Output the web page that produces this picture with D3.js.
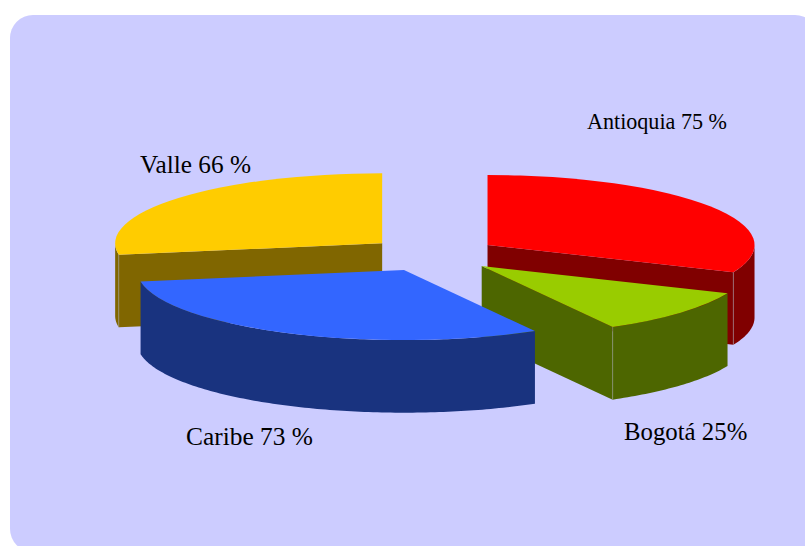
<!DOCTYPE html>
<html>
<head>
<meta charset="utf-8">
<script src="https://cdn.jsdelivr.net/npm/d3@7"></script>
<style>
  html, body { margin: 0; padding: 0; background: #fff; overflow: hidden; }
  svg { display: block; }
</style>
</head>
<body>
<svg width="805" height="546"></svg>
<script>
// regions and their percentages
var regions = ["Antioquia", "Bogotá", "Caribe", "Valle"];
var percents = [75, 25, 73, 66];
var labels = ["Antioquia 75 %", "Bogotá 25%", "Caribe 73 %", "Valle 66 %"];
var topColors = ["#ff0000", "#99cc00", "#3366ff", "#ffcc00"];
var sideColors = ["#800000", "#4d6600", "#19337f", "#806600"];

var svg = d3.select("svg"),
  cx = 432.5,
  cy = 254.5,
  rx = 267,
  tilt = 70 / 267,
  depth = 72.6,
  explode = 66;

// label anchors (left edge, baseline)
var labelX = [587, 624, 186, 140],
  labelY = [129, 440, 445, 173],
  labelSize = [22.1, 24.8, 25.4, 25.3];

svg.append("rect")
  .attr("x", 10)
  .attr("y", 15)
  .attr("width", 808)
  .attr("height", 537)
  .attr("rx", 23)
  .attr("fill", "#ccccff");

var pie = d3.pie().sort(null).value(function(d) { return d; });

var slices = pie(percents).map(function(d, i) {
  var mid = (d.startAngle + d.endAngle) / 2;
  return {
    i: i,
    a0: d.startAngle,
    a1: d.endAngle,
    x: cx + explode * Math.sin(mid),
    y: cy - explode * tilt * Math.cos(mid)
  };
});

// back slices first
slices.sort(function(a, b) { return a.y - b.y; });

var arc = d3.arc().innerRadius(0).outerRadius(rx);

function rim(a) {
  return [rx * Math.sin(a), -rx * tilt * Math.cos(a)];
}

function wallPath(a, b) {
  var n = Math.max(2, Math.ceil((b - a) * 60));
  var pts = d3.range(n + 1).map(function(k) { return rim(a + (b - a) * k / n); });
  var lower = pts.slice().reverse().map(function(p) { return [p[0], p[1] + depth]; });
  return d3.line()(pts.concat(lower)) + "Z";
}

var g = svg.selectAll(".slice")
  .data(slices)
  .enter().append("g")
  .attr("class", "slice")
  .attr("transform", function(d) { return "translate(" + d.x + "," + d.y + ")"; });

g.each(function(d) {
  var el = d3.select(this),
    side = sideColors[d.i];

  // cut faces that turn towards the viewer
  var faces = [];
  if (Math.sin(d.a0) < -0.01) faces.push(d.a0);
  if (Math.sin(d.a1) > 0.01) faces.push(d.a1);
  faces.forEach(function(a) {
    var p = rim(a);
    el.append("path")
      .attr("d", d3.line()([[0, 0], p, [p[0], p[1] + depth], [0, depth]]) + "Z")
      .attr("fill", side);
  });

  // outer wall, front half only
  var a = Math.max(d.a0, Math.PI / 2),
    b = Math.min(d.a1, Math.PI * 1.5);
  if (b > a) {
    el.append("path").attr("d", wallPath(a, b)).attr("fill", side);
  }

  // pale seam where a cut face meets the rim
  faces.forEach(function(f) {
    var p = rim(f);
    el.append("line")
      .attr("x1", p[0]).attr("y1", p[1])
      .attr("x2", p[0]).attr("y2", p[1] + depth)
      .attr("stroke", "#a8a8a8")
      .attr("stroke-opacity", 0.5)
      .attr("stroke-width", 1);
  });

  el.append("path")
    .attr("transform", "scale(1," + tilt + ")")
    .attr("d", arc({ startAngle: d.a0, endAngle: d.a1 }))
    .attr("fill", topColors[d.i]);
});

svg.selectAll(".label")
  .data(labels)
  .enter().append("text")
  .attr("class", "label")
  .attr("x", function(d, i) { return labelX[i]; })
  .attr("y", function(d, i) { return labelY[i]; })
  .attr("font-family", "'Liberation Serif', serif")
  .attr("font-size", function(d, i) { return labelSize[i]; })
  .attr("fill", "#000")
  .text(function(d) { return d; });
</script>
</body>
</html>
